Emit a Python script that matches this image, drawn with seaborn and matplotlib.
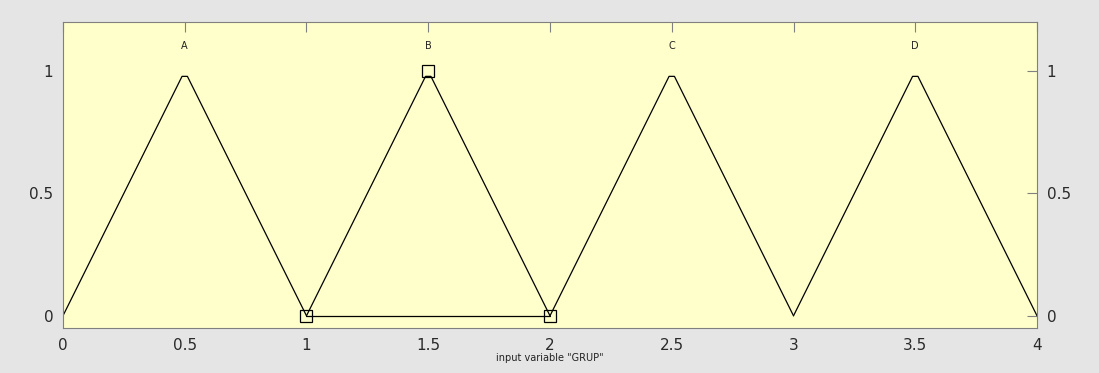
import matplotlib
matplotlib.use('Agg')
import matplotlib.pyplot as plt
import numpy as np
import pandas as pd
import seaborn as sns

# membership functions of input variable "GRUP" (vertices)
mf_names=['A','B','C','D']
mf_x=[[0.0,0.489,0.511,1.0],
      [1.0,1.489,1.511,2.0],
      [2.0,2.489,2.511,3.0],
      [3.0,3.489,3.511,4.0]]
mf_y=[[0.0,0.978,0.978,0.0],
      [0.0,0.978,0.978,0.0],
      [0.0,0.978,0.978,0.0],
      [0.0,0.978,0.978,0.0]]
label_x=[0.5,1.5,2.5,3.5]
label_y=1.1

# selected MF (B) with handles
sel_x=[1.0,1.5,2.0]
sel_y=[0.0,1.0,0.0]

xticks=[0,0.5,1,1.5,2,2.5,3,3.5,4]
xticklabels=['0','0.5','1','1.5','2','2.5','3','3.5','4']
yticks=[0,0.5,1]
yticklabels=['0','0.5','1']
xlabel='input variable "GRUP"'

rows=[]
for name,xs,ys in zip(mf_names,mf_x,mf_y):
    for x,y in zip(xs,ys):
        rows.append({'mf':name,'x':x,'y':y})
df=pd.DataFrame(rows)

sns.set_style('white')
plt.rcParams['font.family']=['DejaVu Sans']

fig=plt.figure(figsize=(10.99,3.73),dpi=100)
fig.patch.set_facecolor('#e5e5e5')
ax=fig.add_axes([0.0573,0.1206,0.8863,0.8204])
ax.set_facecolor('#ffffcc')

sns.lineplot(data=df,x='x',y='y',units='mf',estimator=None,color='black',
             linewidth=0.9,ax=ax,legend=False)

# selected MF handles and base line
ax.plot([sel_x[0],sel_x[-1]],[0,0],color='black',linewidth=0.9)
ax.plot(sel_x,sel_y,linestyle='none',marker='s',markersize=8,
        markerfacecolor='none',markeredgecolor='black',markeredgewidth=0.9)

for name,lx in zip(mf_names,label_x):
    ax.text(lx,label_y,name,ha='center',va='center',fontsize=7,color='#222222')

ax.set_xlim(0,4)
ax.set_ylim(-0.05,1.2)
ax.set_xticks(xticks)
ax.set_xticklabels(xticklabels,fontsize=11)
ax.set_yticks(yticks)
ax.set_yticklabels(yticklabels,fontsize=11)
ax.tick_params(axis='both',direction='in',length=7,width=0.8,color='#808080',
               top=True,right=True,labelright=True,labelcolor='#2a2a2a',pad=7)
for sp in ax.spines.values():
    sp.set_color('#808080')
    sp.set_linewidth(0.8)

ax.set_xlabel(xlabel,fontsize=7,labelpad=0,color='#222222')
ax.set_ylabel('')

fig.savefig('out.png',dpi=100,facecolor=fig.get_facecolor())
